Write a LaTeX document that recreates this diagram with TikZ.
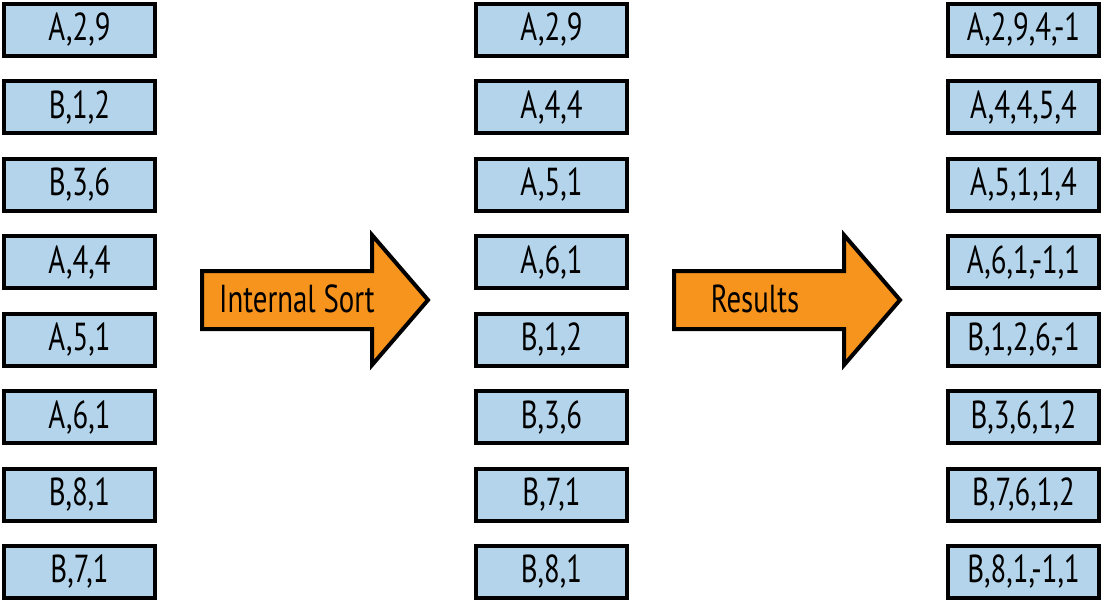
\documentclass[tikz,border=0pt]{standalone}
\usepackage{fontspec}
\setmainfont{PT Sans}[FakeStretch=0.74]
\definecolor{boxblue}{HTML}{B3D4EA}
\definecolor{arroworange}{HTML}{F7941D}
\begin{document}
\begin{tikzpicture}[x=1pt,y=-1pt,
  rec/.style={draw=black,line width=4pt,fill=boxblue,minimum width=151pt,minimum height=52pt,inner sep=0pt,font=\fontsize{39}{42}\selectfont},
  bigarrow/.style={draw=black,line width=4pt,fill=arroworange,line join=miter},
  lbl/.style={font=\fontsize{39}{42}\selectfont,inner sep=0pt}]
\useasboundingbox (0,0) rectangle (1103,602);
\foreach \t [count=\i from 0] in {{A,2,9},{B,1,2},{B,3,6},{A,4,4},{A,5,1},{A,6,1},{B,8,1},{B,7,1}}
  \node[rec] (l\i) at (79.5,30+77.43*\i) {\t};
\foreach \t [count=\i from 0] in {{A,2,9},{A,4,4},{A,5,1},{A,6,1},{B,1,2},{B,3,6},{B,7,1},{B,8,1}}
  \node[rec] (m\i) at (551.5,30+77.43*\i) {\t};
\foreach \t [count=\i from 0] in {{A,2,9,4,-1},{A,4,4,5,4},{A,5,1,1,4},{A,6,1,-1,1},{B,1,2,6,-1},{B,3,6,1,2},{B,7,6,1,2},{B,8,1,-1,1}}
  \node[rec] (r\i) at (1023.5,30+77.43*\i) {\t};
\draw[bigarrow] (202,271) -- (372,271) -- (372,235) -- (428,300) -- (372,365) -- (372,329) -- (202,329) -- cycle;
\node[lbl] (t1) at (297,299) {Internal Sort};
\draw[bigarrow] (674,271) -- (844,271) -- (844,235) -- (900,300) -- (844,365) -- (844,329) -- (674,329) -- cycle;
\node[lbl] (t2) at (755,299) {Results};
\end{tikzpicture}
\end{document}
